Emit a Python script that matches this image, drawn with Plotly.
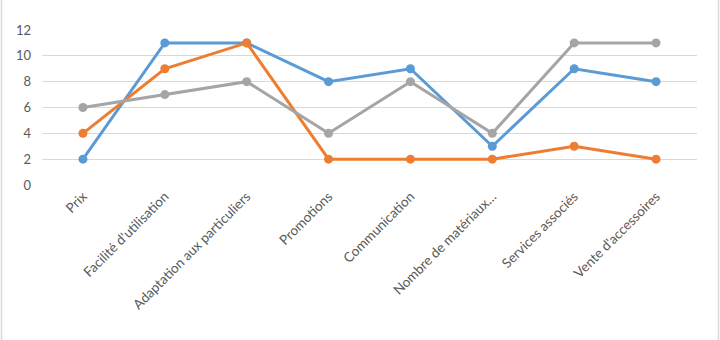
import plotly.graph_objects as go

categories = ["Prix", "Facilité d'utilisation", "Adaptation aux particuliers", "Promotions",
              "Communication", "Nombre de matériaux…", "Services associés", "Vente d'accessoires"]
serie1 = [2, 11, 11, 8, 9, 3, 9, 8]
serie2 = [4, 9, 11, 2, 2, 2, 3, 2]
serie3 = [6, 7, 8, 4, 8, 4, 11, 11]
y_ticks = [0, 2, 4, 6, 8, 10, 12]

colors = ["#5B9BD5", "#ED7D31", "#A5A5A5"]

fig = go.Figure()
for name, vals, c in zip(["Série 1", "Série 2", "Série 3"], [serie1, serie2, serie3], colors):
    fig.add_trace(go.Scatter(
        x=categories, y=vals, mode="lines+markers", name=name,
        line=dict(color=c, width=3), marker=dict(color=c, size=9),
        cliponaxis=False,
    ))

pw = 720 - 42 - 23
ph = 340 - 30 - 155
fig.update_layout(
    width=720, height=340,
    margin=dict(l=42, r=23, t=30, b=155),
    paper_bgcolor="white", plot_bgcolor="white",
    showlegend=False,
    font=dict(family="Lato, Liberation Sans, sans-serif", color="#595959", size=12),
    xaxis=dict(type="category", range=[-0.5, 7.5], showgrid=False, showline=False,
               ticks="", tickangle=-45, tickfont=dict(size=13.5, color="#595959")),
    yaxis=dict(range=[0, 12], tickvals=y_ticks, showgrid=True, gridcolor="#D9D9D9",
               gridwidth=1, zeroline=False, showline=False, ticks="",
               tickfont=dict(size=13, color="#595959"), ticklabelstandoff=10),
    shapes=[
        dict(type="line", xref="paper", yref="paper",
             x0=(1.5 - 42) / pw, x1=(1.5 - 42) / pw, y0=-155 / ph, y1=1 + 30 / ph,
             line=dict(color="#D9D9D9", width=1.5)),
        dict(type="line", xref="paper", yref="paper",
             x0=(718.5 - 42) / pw, x1=(718.5 - 42) / pw, y0=-155 / ph, y1=1 + 30 / ph,
             line=dict(color="#D9D9D9", width=1.5)),
    ],
)

fig.write_html("out.html")
